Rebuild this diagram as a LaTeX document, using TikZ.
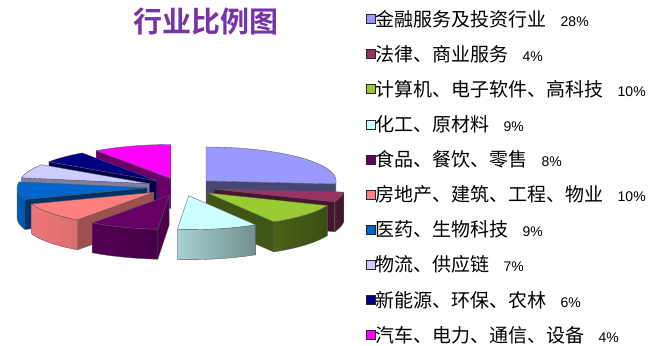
\documentclass[tikz,border=0pt]{standalone}
\usepackage{fontspec}
\newfontfamily\cjk{Noto Sans CJK SC}
\newfontfamily\cjkbold{Noto Sans CJK SC Bold}
\newfontfamily\pctfont{Liberation Sans}
\definecolor{cA}{HTML}{9999FF}
\definecolor{cB}{HTML}{993366}
\definecolor{cC}{HTML}{99CC33}
\definecolor{cD}{HTML}{CCFFFF}
\definecolor{cE}{HTML}{660066}
\definecolor{cF}{HTML}{FF8080}
\definecolor{cG}{HTML}{0066CC}
\definecolor{cH}{HTML}{CCCCFF}
\definecolor{cI}{HTML}{000080}
\definecolor{cJ}{HTML}{FF00FF}
\definecolor{titlecol}{RGB}{118,52,168}
\tikzset{
  edge/.style={draw=black!65,line width=0.35pt,line join=round},
  legsq/.style={draw=black!85,line width=0.6pt,minimum size=9pt,inner sep=0pt},
  legtext/.style={anchor=base west,inner sep=0pt,font=\cjk\fontsize{19}{19}\selectfont}
}
\def\cx{181}\def\cy{187}\def\rx{130}\def\ry{34}\def\dd{34}\def\th{30}
% #1 start angle, #2 end angle, #3 colour, #4 radial wall mix, #5/#6 outer wall left/right mix
\newcommand\drawslice[6]{%
  \pgfmathsetmacro\mA{(#1+#2)/2}%
  \pgfmathsetmacro\vx{\cx+\dd*sin(\mA)}%
  \pgfmathsetmacro\vy{\cy-\dd*\ry/\rx*cos(\mA)}%
  \pgfmathsetmacro\sA{sin(#1)}%
  \pgfmathsetmacro\sB{sin(#2)}%
  \pgfmathsetmacro\bA{max(#1,90)}%
  \pgfmathsetmacro\bB{min(#2,270)}%
  \ifdim\sA pt<-0.001pt
    \filldraw[edge,fill=#3!#4!black] (\vx,\vy) -- ({\vx+\rx*sin(#1)},{\vy-\ry*cos(#1)})
      -- ({\vx+\rx*sin(#1)},{\vy-\ry*cos(#1)+\th}) -- (\vx,{\vy+\th}) -- cycle;
  \fi
  \ifdim\sB pt>0.001pt
    \filldraw[edge,fill=#3!#4!black] (\vx,\vy) -- ({\vx+\rx*sin(#2)},{\vy-\ry*cos(#2)})
      -- ({\vx+\rx*sin(#2)},{\vy-\ry*cos(#2)+\th}) -- (\vx,{\vy+\th}) -- cycle;
  \fi
  \ifdim\bA pt<\bB pt
    \shade[left color=#3!#5!black,right color=#3!#6!black]
      plot[domain=\bA:\bB,samples=30,variable=\t] ({\vx+\rx*sin(\t)},{\vy-\ry*cos(\t)})
      -- plot[domain=\bB:\bA,samples=30,variable=\t] ({\vx+\rx*sin(\t)},{\vy-\ry*cos(\t)+\th}) -- cycle;
    \draw[edge]
      plot[domain=\bA:\bB,samples=30,variable=\t] ({\vx+\rx*sin(\t)},{\vy-\ry*cos(\t)})
      -- plot[domain=\bB:\bA,samples=30,variable=\t] ({\vx+\rx*sin(\t)},{\vy-\ry*cos(\t)+\th}) -- cycle;
  \fi
  \filldraw[edge,fill=#3] (\vx,\vy)
    -- plot[domain=#1:#2,samples=40,variable=\t] ({\vx+\rx*sin(\t)},{\vy-\ry*cos(\t)}) -- cycle;
}
\begin{document}
\begin{tikzpicture}[x=1pt,y=-1pt]
\useasboundingbox (0,0) rectangle (668,345);
\fill[white] (0,0) rectangle (668,345);
% pie slices, back to front
\drawslice{325}{360}{cJ}{42}{80}{70}
\drawslice{304}{325}{cI}{60}{80}{70}
\drawslice{0}{95}{cA}{46}{50}{45}
\drawslice{280}{304}{cH}{62}{80}{70}
\drawslice{250}{280}{cG}{50}{90}{82}
\drawslice{95}{112}{cB}{45}{50}{40}
\drawslice{216}{250}{cF}{62}{93}{86}
\drawslice{112}{149}{cC}{42}{48}{38}
\drawslice{185}{216}{cE}{72}{82}{68}
\drawslice{149}{185}{cD}{55}{82}{56}
% title
\node[anchor=base,inner sep=0pt,text=titlecol,font=\cjkbold\fontsize{29}{29}\selectfont] (title) at (206,32.5) {行业比例图};
% legend
\foreach \i/\c/\txt/\p in {1/cA/金融服务及投资行业/28,2/cB/法律、商业服务/4,3/cC/计算机、电子软件、高科技/10,4/cD/化工、原材料/9,5/cE/食品、餐饮、零售/8,6/cF/房地产、建筑、工程、物业/10,7/cG/医药、生物科技/9,8/cH/物流、供应链/7,9/cI/新能源、环保、农林/6,10/cJ/汽车、电力、通信、设备/4}{
  \pgfmathsetmacro\yy{19+35.1*(\i-1)}
  \node[legsq,fill=\c] (sq\i) at (370.5,\yy) {};
  \node[legtext] (leg\i) at (375.5,{\yy+7.2}) {\txt\hspace{14pt}{\pctfont\fontsize{14}{14}\selectfont\p\%}};
}
\end{tikzpicture}
\end{document}
